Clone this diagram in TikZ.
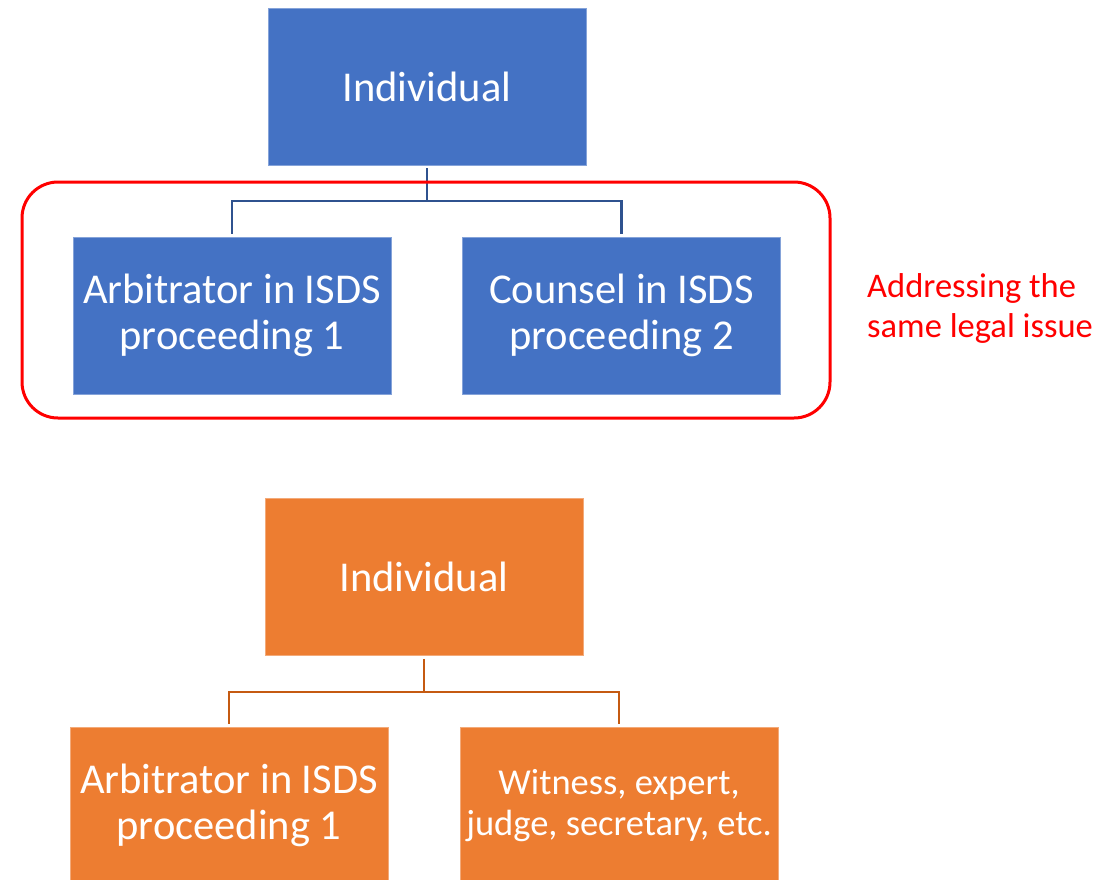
\documentclass[tikz,border=0pt]{standalone}
\usepackage{fontspec}
\setmainfont{Carlito}
\usetikzlibrary{positioning}
\definecolor{boxblue}{HTML}{4472C4}
\definecolor{lineblue}{HTML}{2F528F}
\definecolor{boxorange}{HTML}{ED7D31}
\definecolor{lineorange}{HTML}{C55A11}
\definecolor{hlred}{HTML}{FF0000}
\tikzset{
  box/.style={draw=white!35!#1, line width=0.8pt, fill=#1, text=white,
    minimum width=318pt, minimum height=157pt, align=center, inner sep=0pt,
    font=\fontsize{42.5}{46}\selectfont},
  smalltext/.style={font=\fontsize{36.5}{41}\selectfont},
  conn/.style={draw=#1, line width=2.2pt, shorten <=3pt, shorten >=3pt},
  groupframe/.style={draw=hlred, line width=3pt, rounded corners=36pt},
  note/.style={text=hlred, align=left, anchor=west, inner sep=0pt,
    font=\fontsize{34.5}{40}\selectfont}
}
\begin{document}
\begin{tikzpicture}[x=1pt,y=-1pt]
\useasboundingbox (0,0) rectangle (1109,879);

% upper tree
\node[box=boxblue] (ind1) at (427,86.5) {Individual};
\node[box=boxblue] (arb1) at (232,315.5) {Arbitrator in ISDS\\proceeding 1};
\node[box=boxblue] (cou2) at (621.5,315.5) {Counsel in ISDS\\proceeding 2};
\coordinate (j1) at (427,201);
\draw[conn=lineblue, shorten >=0pt] (ind1.south) -- (j1);
\draw[conn=lineblue, shorten <=0pt] (j1) -| (arb1.north);
\draw[conn=lineblue, shorten <=0pt] (j1) -| (cou2.north);

% frame around the two roles and its label
\draw[groupframe] (22,182) rectangle (830,418);
\node[note] (lbl) at (867,308) {Addressing the\\same legal issue};

% lower tree
\node[box=boxorange] (ind2) at (424,577) {Individual};
\node[box=boxorange] (arb3) at (229,805.5) {Arbitrator in ISDS\\proceeding 1};
\node[box=boxorange, smalltext] (wit) at (619,805.5) {Witness, expert,\\judge, secretary, etc.};
\coordinate (j2) at (424,692);
\draw[conn=lineorange, shorten >=0pt] (ind2.south) -- (j2);
\draw[conn=lineorange, shorten <=0pt] (j2) -| (arb3.north);
\draw[conn=lineorange, shorten <=0pt] (j2) -| (wit.north);
\end{tikzpicture}
\end{document}
